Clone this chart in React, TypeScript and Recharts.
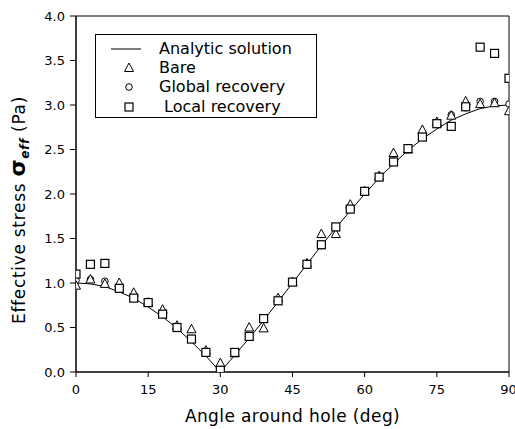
import {
  ComposedChart,
  Line,
  Scatter,
  XAxis,
  YAxis,
  ReferenceArea,
  Label,
} from 'recharts';

const angles = [0, 3, 6, 9, 12, 15, 18, 21, 24, 27, 30, 33, 36, 39, 42, 45, 48, 51, 54, 57, 60, 63, 66, 69, 72, 75, 78, 81, 84, 87, 90];

const analytic = [1.0, 0.99, 0.96, 0.9, 0.83, 0.73, 0.62, 0.49, 0.34, 0.18, 0.0, 0.19, 0.38, 0.58, 0.79, 1.0, 1.21, 1.42, 1.62, 1.81, 2.0, 2.18, 2.34, 2.49, 2.62, 2.73, 2.83, 2.9, 2.96, 2.99, 3.0];

const bare = [0.97, 1.04, 0.99, 1.0, 0.89, 0.78, 0.7, 0.52, 0.48, 0.24, 0.1, 0.21, 0.5, 0.49, 0.83, 1.01, 1.22, 1.55, 1.55, 1.88, 2.03, 2.2, 2.46, 2.5, 2.72, 2.81, 2.88, 3.04, 3.01, 3.02, 2.93];

const globalRec = [1.03, 1.04, 1.02, 0.96, 0.85, 0.77, 0.66, 0.51, 0.37, 0.21, 0.03, 0.21, 0.39, 0.6, 0.8, 1.01, 1.21, 1.42, 1.63, 1.84, 2.03, 2.2, 2.37, 2.52, 2.65, 2.8, 2.89, 2.97, 3.04, 3.04, 3.01];

const localRec = [1.1, 1.21, 1.22, 0.94, 0.83, 0.78, 0.65, 0.5, 0.37, 0.22, 0.02, 0.22, 0.4, 0.6, 0.8, 1.01, 1.21, 1.43, 1.63, 1.83, 2.03, 2.19, 2.36, 2.51, 2.64, 2.79, 2.76, 2.98, 3.65, 3.58, 3.3];

const xTicks = [0, 15, 30, 45, 60, 75, 90];
const yTicks = [0, 0.5, 1, 1.5, 2, 2.5, 3, 3.5, 4];

const legendItems = [
  { label: 'Analytic solution', kind: 'line' },
  { label: 'Bare', kind: 'triangle' },
  { label: 'Global recovery', kind: 'circle' },
  { label: ' Local recovery', kind: 'square' },
];

const FONT = '"DejaVu Sans", Arial, sans-serif';

const chartData = angles.map((a, i) => ({
  angle: a,
  analytic: analytic[i],
  bare: bare[i],
  global: globalRec[i],
  local: localRec[i],
}));

const Triangle = ({ cx, cy }: any) => (
  <polygon
    points={`${cx},${cy - 5} ${cx - 4.5},${cy + 3.5} ${cx + 4.5},${cy + 3.5}`}
    fill="#fff"
    stroke="#000"
    strokeWidth={1}
  />
);

const Circle = ({ cx, cy }: any) => (
  <circle cx={cx} cy={cy} r={3.3} fill="#fff" stroke="#000" strokeWidth={1} />
);

const Square = ({ cx, cy }: any) => (
  <rect x={cx - 4} y={cy - 4} width={8} height={8} fill="#fff" stroke="#000" strokeWidth={1.2} />
);

const legendIcon = (kind: string) => {
  if (kind === 'line') return <line x1={0} y1={9} x2={30} y2={9} stroke="#000" strokeWidth={1} />;
  if (kind === 'triangle') return <Triangle cx={18} cy={9} />;
  if (kind === 'circle') return <Circle cx={18} cy={9} />;
  return <Square cx={18} cy={9} />;
};

// rotated y title with bold sigma and "eff" subscript
const YTitle = () => (
  <text
    x={25}
    y={210}
    transform="rotate(-90, 25, 210)"
    textAnchor="middle"
    fontFamily={FONT}
    fontSize={17}
    letterSpacing={0.7}
    fill="#000"
  >
    <tspan>Effective stress  </tspan>
    <tspan fontWeight="bold" fontSize={22}>σ</tspan>
    <tspan fontWeight="bold" fontStyle="italic" fontSize={12} dy={4}>eff</tspan>
    <tspan dy={-4}> (Pa)</tspan>
  </text>
);

export default function App() {
  return (
    <div style={{ position: 'absolute', left: 0, top: 0, width: 515, height: 429, background: '#fff' }}>
      <ComposedChart
        width={515}
        height={429}
        data={chartData}
        margin={{ top: 16, right: 6, bottom: 0, left: 0 }}
      >
        <XAxis
          type="number"
          dataKey="angle"
          domain={[0, 90]}
          ticks={xTicks}
          allowDataOverflow
          height={57}
          tickSize={5}
          tickMargin={8}
          axisLine={{ stroke: '#000' }}
          tickLine={{ stroke: '#000' }}
          tick={{ fill: '#000', fontSize: 13, fontFamily: FONT }}
        >
          <Label
            value="Angle around hole (deg)"
            position="insideBottom"
            offset={7}
            style={{ fill: '#000', fontSize: 17, fontFamily: FONT, letterSpacing: 0.4 }}
          />
        </XAxis>
        <YAxis
          type="number"
          domain={[0, 4]}
          ticks={yTicks}
          allowDataOverflow
          width={76}
          tickSize={6}
          tickMargin={5}
          tickFormatter={(v: number) => v.toFixed(1)}
          axisLine={{ stroke: '#000' }}
          tickLine={{ stroke: '#000' }}
          tick={{ fill: '#000', fontSize: 13, fontFamily: FONT }}
        >
          <Label content={<YTitle />} />
        </YAxis>
        <ReferenceArea x1={0} x2={90} y1={0} y2={4} fill="none" stroke="#000" strokeWidth={1} ifOverflow="visible" />
        <Line
          type="linear"
          dataKey="analytic"
          stroke="#000"
          strokeWidth={1}
          dot={false}
          activeDot={false}
          isAnimationActive={false}
        />
        <Scatter dataKey="global" shape={(p: any) => <Circle cx={p.cx} cy={p.cy} />} isAnimationActive={false} />
        <Scatter dataKey="bare" shape={(p: any) => <Triangle cx={p.cx} cy={p.cy} />} isAnimationActive={false} />
        <Scatter dataKey="local" shape={(p: any) => <Square cx={p.cx} cy={p.cy} />} isAnimationActive={false} />
      </ComposedChart>
      <div
        style={{
          position: 'absolute',
          left: 95,
          top: 34,
          width: 222,
          height: 84,
          border: '1px solid #000',
          background: '#fff',
          fontFamily: FONT,
          fontSize: 16,
          color: '#000',
          boxSizing: 'border-box',
          paddingTop: 4,
        }}
      >
        {legendItems.map((it) => (
          <div key={it.label} style={{ display: 'flex', alignItems: 'center', height: 19.3 }}>
            <svg width={48} height={18} style={{ marginLeft: 15, flex: 'none' }}>
              {legendIcon(it.kind)}
            </svg>
            <span style={{ whiteSpace: 'pre', lineHeight: '18px' }}>{it.label}</span>
          </div>
        ))}
      </div>
    </div>
  );
}
